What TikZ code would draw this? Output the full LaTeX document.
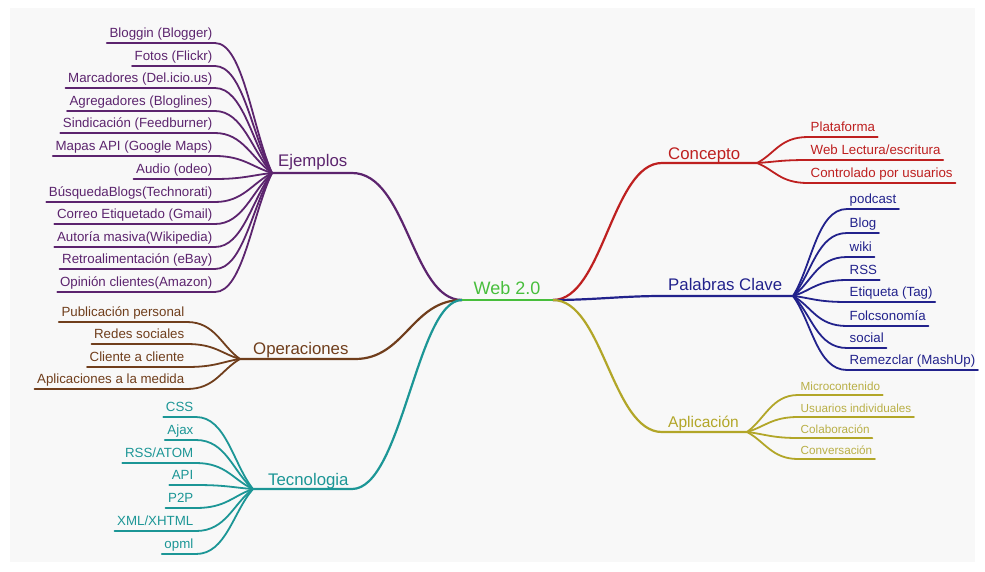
\documentclass[tikz,border=0pt]{standalone}
\usepackage{fontspec}
\setmainfont{Liberation Sans}
\usetikzlibrary{calc}
\definecolor{cpurple}{RGB}{92,36,110}
\definecolor{cbrown}{RGB}{112,62,28}
\definecolor{cteal}{RGB}{28,150,150}
\definecolor{cred}{RGB}{190,32,32}
\definecolor{cblue}{RGB}{34,34,140}
\definecolor{colive}{RGB}{178,166,40}
\definecolor{colivetext}{RGB}{185,175,70}
\definecolor{cgreen}{RGB}{72,190,60}
\definecolor{bgpanel}{RGB}{248,248,248}
\begin{document}
\begin{tikzpicture}[x=1pt,y=-1pt,
  leaf/.style={inner xsep=2.5pt, inner ysep=5pt, text depth=0pt, font=\fontsize{13.3}{15}\selectfont},
  lleaf/.style={leaf, anchor=south east},
  rleaf/.style={leaf, anchor=south west},
  sleaf/.style={rleaf, inner ysep=4pt, font=\fontsize{11.7}{13}\selectfont, text=colivetext},
  hub/.style={inner sep=0pt, anchor=base west, font=\fontsize{16.8}{19}\selectfont},
  twig/.style={line width=1.8pt, line cap=round},
  limb/.style={line width=2.2pt, line cap=round},
]
\useasboundingbox (0,0) rectangle (985,571);
\fill[white] (0,0) rectangle (985,571);
\fill[bgpanel] (10,8) rectangle (975,562);

% ---------- centre ----------
\coordinate (Wl) at (462,300);
\coordinate (Wr) at (553,300);
\node[inner sep=0pt, anchor=base, font=\fontsize{18}{20}\selectfont, text=cgreen] (W) at (507,294) {Web 2.0};

% ---------- hubs ----------
\coordinate (Eb) at (272,173); \coordinate (Ee) at (352,173);
\node[hub, text=cpurple] (E) at (278,166) {Ejemplos};
\coordinate (Ob) at (240,359); \coordinate (Oe) at (355,359);
\node[hub, text=cbrown] (O) at (253,354) {Operaciones};
\coordinate (Tb) at (253,489); \coordinate (Te) at (352,489);
\node[hub, text=cteal] (T) at (268,485) {Tecnologia};
\coordinate (Cs) at (662,163); \coordinate (Cb) at (757,163);
\node[hub, text=cred] (C) at (668,159) {Concepto};
\coordinate (Ps) at (662,296); \coordinate (Pb) at (793,296);
\node[hub, text=cblue] (P) at (668,290) {Palabras Clave};
\coordinate (As) at (662,432); \coordinate (Ab) at (747,432);
\node[hub, text=colive, font=\fontsize{15.5}{18}\selectfont] (A) at (668,427) {Aplicación};

\draw[limb,cpurple] (Eb) -- (Ee) .. controls +(55,0) and +(-50,0) .. (Wl);
\draw[limb,cbrown] (Ob) -- (Oe) .. controls +(50,0) and +(-50,0) .. (Wl);
\draw[limb,cteal] (Tb) -- (Te) .. controls +(50,0) and +(-45,0) .. (Wl);
\draw[limb,cred] (Wr) .. controls +(50,0) and +(-50,0) .. (Cs) -- (Cb);
\draw[limb,cblue] (Wr) .. controls +(40,0) and +(-40,0) .. (Ps) -- (Pb);
\draw[limb,colive] (Wr) .. controls +(50,0) and +(-50,0) .. (As) -- (Ab);
\draw[line width=2.6pt,cgreen] (Wl) -- (Wr);

% ---------- Ejemplos ----------
\begin{scope}[text=cpurple]
\node[lleaf] (e1) at (215,43) {Bloggin (Blogger)};
\node[lleaf] (e2) at (215,66) {Fotos (Flickr)};
\node[lleaf] (e3) at (215,88) {Marcadores (Del.icio.us)};
\node[lleaf] (e4) at (215,111) {Agregadores (Bloglines)};
\node[lleaf] (e5) at (215,133) {Sindicación (Feedburner)};
\node[lleaf] (e6) at (215,156) {Mapas API (Google Maps)};
\node[lleaf] (e7) at (215,179) {Audio (odeo)};
\node[lleaf] (e8) at (215,202) {BúsquedaBlogs(Technorati)};
\node[lleaf] (e9) at (215,224) {Correo Etiquetado (Gmail)};
\node[lleaf] (e10) at (215,247) {Autoría masiva(Wikipedia)};
\node[lleaf] (e11) at (215,269) {Retroalimentación (eBay)};
\node[lleaf] (e12) at (215,292) {Opinión clientes(Amazon)};
\end{scope}
\foreach \n in {e1,e2,e3,e4,e5,e6,e7,e8,e9,e10,e11,e12}
  \draw[twig,cpurple] (\n.south west) -- (\n.south east) .. controls +(28,0) and ($(Eb)!0.35!(\n.south east)$) .. (Eb);

% ---------- Operaciones ----------
\begin{scope}[text=cbrown]
\node[lleaf] (o1) at (187,322) {Publicación personal};
\node[lleaf] (o2) at (187,344) {Redes sociales};
\node[lleaf] (o3) at (187,367) {Cliente a cliente};
\node[lleaf] (o4) at (187,389) {Aplicaciones a la medida};
\end{scope}
\foreach \n in {o1,o2,o3,o4}
  \draw[twig,cbrown] (\n.south west) -- (\n.south east) .. controls +(28,0) and ($(Ob)!0.35!(\n.south east)$) .. (Ob);

% ---------- Tecnologia ----------
\begin{scope}[text=cteal]
\node[lleaf] (t1) at (196,417) {CSS};
\node[lleaf] (t2) at (196,440) {Ajax};
\node[lleaf] (t3) at (196,463) {RSS/ATOM};
\node[lleaf] (t4) at (196,485) {API};
\node[lleaf] (t5) at (196,508) {P2P};
\node[lleaf] (t6) at (196,531) {XML/XHTML};
\node[lleaf] (t7) at (196,554) {opml};
\end{scope}
\foreach \n in {t1,t2,t3,t4,t5,t6,t7}
  \draw[twig,cteal] (\n.south west) -- (\n.south east) .. controls +(30,0) and ($(Tb)!0.35!(\n.south east)$) .. (Tb);

% ---------- Concepto ----------
\begin{scope}[text=cred]
\node[rleaf] (c1) at (808,137) {Plataforma};
\node[rleaf] (c2) at (808,160) {Web Lectura/escritura};
\node[rleaf] (c3) at (808,183) {Controlado por usuarios};
\end{scope}
\foreach \n in {c1,c2,c3}
  \draw[twig,cred] (Cb) .. controls ($(Cb)!0.35!(\n.south west)$) and +(-28,0) .. (\n.south west) -- (\n.south east);

% ---------- Palabras Clave ----------
\begin{scope}[text=cblue]
\node[rleaf] (p1) at (847,209) {podcast};
\node[rleaf] (p2) at (847,233) {Blog};
\node[rleaf] (p3) at (847,257) {wiki};
\node[rleaf] (p4) at (847,280) {RSS};
\node[rleaf] (p5) at (847,302) {Etiqueta (Tag)};
\node[rleaf] (p6) at (847,326) {Folcsonomía};
\node[rleaf] (p7) at (847,348) {social};
\node[rleaf] (p8) at (847,370) {Remezclar (MashUp)};
\end{scope}
\foreach \n in {p1,p2,p3,p4,p5,p6,p7,p8}
  \draw[twig,cblue] (Pb) .. controls ($(Pb)!0.35!(\n.south west)$) and +(-30,0) .. (\n.south west) -- (\n.south east);

% ---------- Aplicacion ----------
\node[sleaf] (a1) at (798,395) {Microcontenido};
\node[sleaf] (a2) at (798,417) {Usuarios individuales};
\node[sleaf] (a3) at (798,438) {Colaboración};
\node[sleaf] (a4) at (798,459) {Conversación};
\foreach \n in {a1,a2,a3,a4}
  \draw[twig,colive] (Ab) .. controls ($(Ab)!0.35!(\n.south west)$) and +(-26,0) .. (\n.south west) -- (\n.south east);
\end{tikzpicture}
\end{document}
